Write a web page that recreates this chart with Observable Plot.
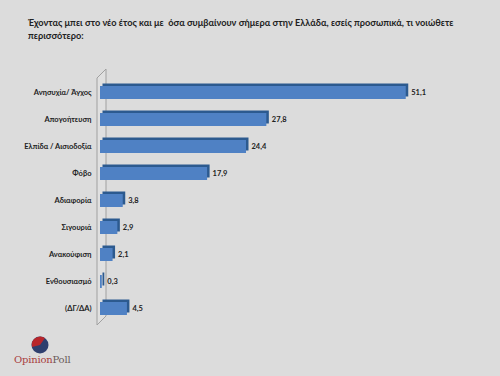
<!DOCTYPE html>
<html>
<head>
<meta charset="utf-8">
<script src="https://cdn.jsdelivr.net/npm/d3@7"></script>
<script src="https://cdn.jsdelivr.net/npm/@observablehq/plot@0.6"></script>
<style>
  html, body { margin: 0; padding: 0; }
  body { width: 500px; height: 376px; background: #dcdcdc; overflow: hidden; position: relative; font-family: Lato, sans-serif; }
  #title { height: 50px; box-sizing: border-box; padding: 16px 0 0 28px; font-family: Lato, sans-serif; font-size: 9.2px; font-weight: 700; color: #222; line-height: 13px; white-space: nowrap; }
  #chart svg { display: block; }
  #logo { position: absolute; left: 12px; top: 334px; width: 70px; height: 40px; }
  #logo .txt { position: absolute; left: 2px; top: 20px; font-family: "DejaVu Serif", "Liberation Serif", serif; font-size: 10px; letter-spacing: -0.2px; }
</style>
</head>
<body>
<div id="title">Έχοντας μπει στο νέο έτος και με&nbsp; όσα συμβαίνουν σήμερα στην Ελλάδα, εσείς προσωπικά, τι νοιώθετε<br>περισσότερο:</div>
<div id="chart"></div>
<div id="logo">
  <svg width="70" height="20" style="position:absolute;left:0;top:0">
    <circle cx="28" cy="11" r="8.5" fill="#2e3f6e"/>
    <path d="M 20 13 A 8.5 8.5 0 0 1 33 4 L 28 11 Z" fill="#b8262b"/>
  </svg>
  <div class="txt"><span style="color:#a8403c">Opinion</span><span style="color:#6a5a58">Poll</span></div>
</div>
<script>
const categories = ["Ανησυχία/ Άγχος", "Απογοήτευση", "Ελπίδα / Αισιοδοξία", "Φόβο", "Αδιαφορία", "Σιγουριά", "Ανακούφιση", "Ενθουσιασμό", "(ΔΓ/ΔΑ)"];
const values = [51.1, 27.8, 24.4, 17.9, 3.8, 2.9, 2.1, 0.3, 4.5];

const data = categories.map((c, i) => ({category: c, value: values[i]}));
const fmt = v => v.toFixed(1).replace(".", ",");

const wall = (index, scales, values, dimensions) => {
  const x0 = scales.x(0) - 3;
  const y0 = dimensions.marginTop + 2;
  const y1 = dimensions.height - dimensions.marginBottom;
  const g = d3.create("svg:g").attr("fill", "none").attr("stroke", "#a0a0a0").attr("stroke-width", 1);
  g.append("path").attr("d", `M${x0},${y0} L${x0},${y1} L${x0 + 9},${y1 - 9} L${x0 + 9},${y0 - 9} Z`).attr("fill", "#e0e0e0");
  return g.node();
};

const chart = Plot.plot({
  width: 500,
  height: 280,
  marginLeft: 100,
  marginRight: 41,
  marginTop: 26,
  marginBottom: 5,
  style: {background: "transparent", fontFamily: "Lato, sans-serif"},
  x: {domain: [0, 60], axis: null},
  y: {domain: categories, paddingInner: 0.53, paddingOuter: 0.265, label: null},
  marks: [
    wall,
    Plot.barX(data, {y: "category", x: "value", fill: "#2c5a8f", dx: 2.5, dy: -2.5}),
    Plot.barX(data, {y: "category", x: "value", fill: "#4f81c4"}),
    Plot.axisY({tickSize: 0, tickPadding: 9, fontSize: 7.5, fontWeight: 700, fill: "#222", label: null}),
    Plot.text(data, {y: "category", x: "value", text: d => fmt(d.value), textAnchor: "start", dx: 5, fontSize: 7.5, fontWeight: 700, fill: "#222"})
  ]
});
document.getElementById("chart").append(chart);
</script>
</body>
</html>
